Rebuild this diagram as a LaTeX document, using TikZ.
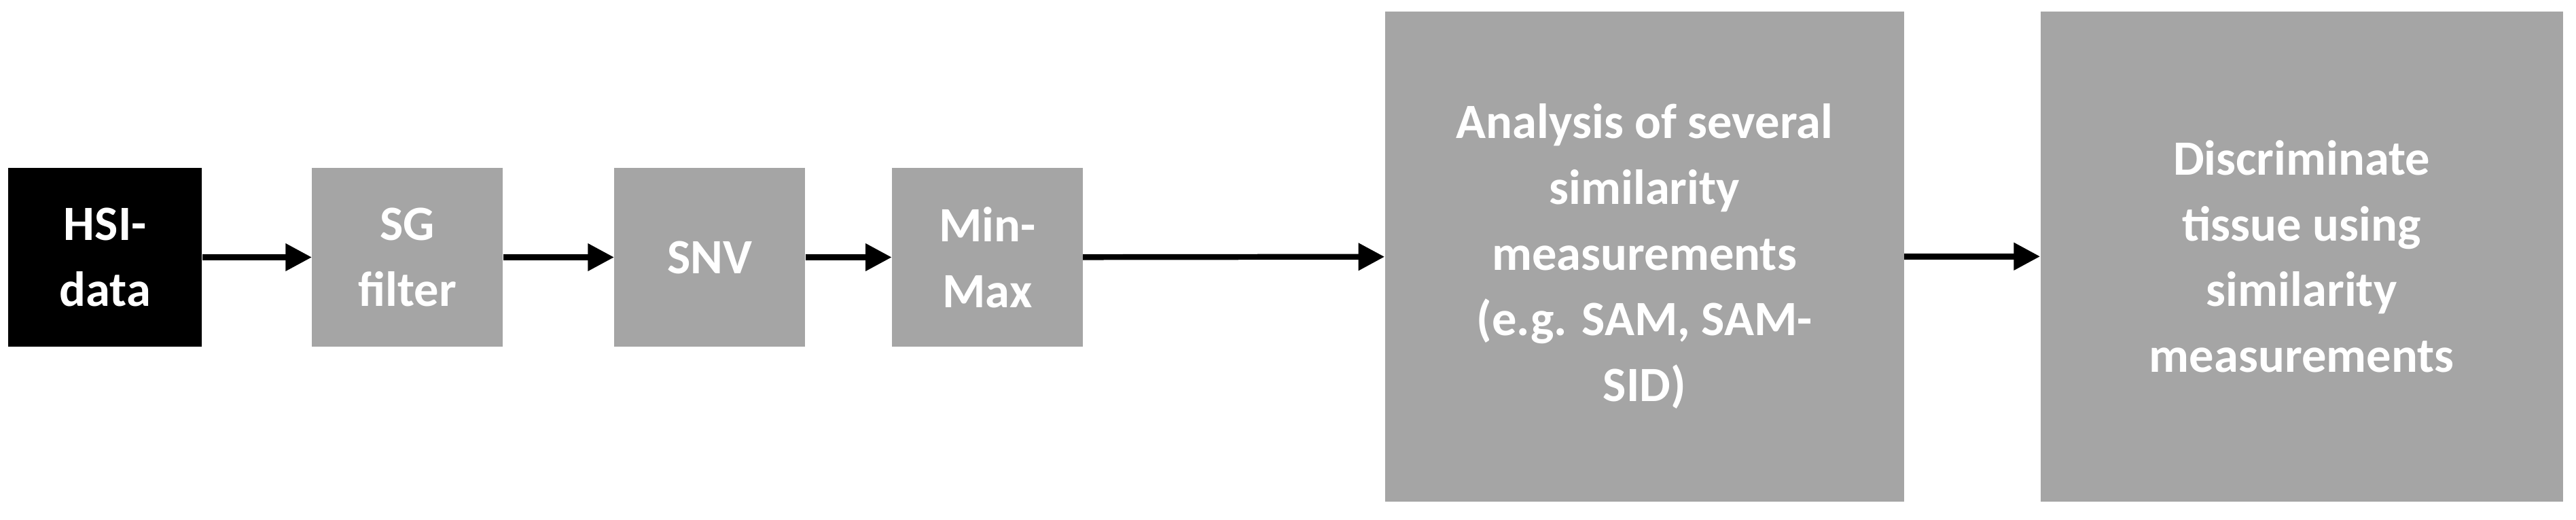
\documentclass[tikz,border=0pt]{standalone}
\usepackage{fontspec}
\setmainfont{Carlito}
\usetikzlibrary{arrows.meta}
\definecolor{boxgray}{HTML}{A5A5A5}
\begin{document}
\begin{tikzpicture}[x=1pt,y=-1pt,
  blk/.style={fill=boxgray,text=white,font=\bfseries\fontsize{30}{40}\selectfont,align=center,inner sep=0pt},
  conn/.style={line width=3.5pt,-{Triangle[length=16pt,width=16pt]}}]
\useasboundingbox (0,0) rectangle (1568,316);
\fill[boxgray] (190,102) rectangle (306,211);
\node[blk,fill=black,minimum width=118pt,minimum height=109pt] (hsi) at (64,156.5) {HSI-\\data};
\node[blk,minimum width=116pt,minimum height=109pt] (sg) at (248,156.5) {SG\\filter};
\node[blk,minimum width=116pt,minimum height=109pt] (snv) at (432,156.5) {SNV};
\node[blk,minimum width=116pt,minimum height=109pt] (mm) at (601,156.5) {Min-\\Max};
\node[blk,minimum width=316pt,minimum height=298pt] (an) at (1001,156) {Analysis of several\\similarity\\measurements\\(e.g. SAM, SAM-\\SID)};
\node[blk,minimum width=318pt,minimum height=298pt] (dt) at (1401,156) {Discriminate\\tissue using\\similarity\\measurements};
\draw[conn] (hsi) -- (sg);
\draw[conn] (sg) -- (snv);
\draw[conn] (snv) -- (mm);
\draw[conn] (mm) -- (an);
\draw[conn] (an) -- (dt);
\end{tikzpicture}
\end{document}
